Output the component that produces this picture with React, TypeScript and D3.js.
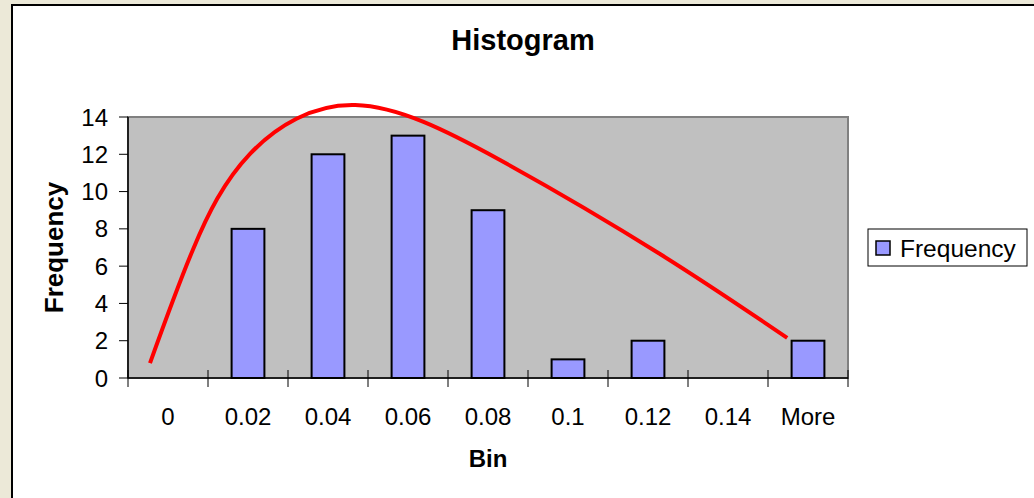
import React from "react";
import * as d3 from "d3";

const categories = ["0", "0.02", "0.04", "0.06", "0.08", "0.1", "0.12", "0.14", "More"];
const frequencies = [0, 8, 12, 13, 9, 1, 2, 0, 2];
const yTicks = [0, 2, 4, 6, 8, 10, 12, 14];
// red curve, x in category units from the left edge of the plot, y in frequency units
const curveX = [0.275, 0.81, 1.525, 2.84, 4.65, 6.65, 8.24];
const curveY = [0.8, 6.87, 12.02, 14.64, 11.69, 6.65, 2.15];

const W = 1034;
const H = 498;
const plot = { left: 128, top: 117, right: 848, bottom: 378 };
const FONT = "Liberation Sans, Arial, sans-serif";

export default function App() {
  const x = d3
    .scaleBand<string>()
    .domain(categories)
    .range([plot.left, plot.right])
    .paddingInner(0.59)
    .paddingOuter(0.295);
  const xc = d3.scaleLinear().domain([0, categories.length]).range([plot.left, plot.right]);
  const y = d3.scaleLinear().domain([0, 14]).range([plot.bottom, plot.top]);
  const line = d3
    .line<number>()
    .x((_, i) => xc(curveX[i]))
    .y((d) => y(d))
    .curve(d3.curveNatural);
  const step = x.step();
  const boundaries = d3.range(categories.length + 1).map((i) => plot.left + i * step);

  return (
    <svg
      width={W}
      height={H}
      style={{ position: "absolute", left: 0, top: 0, display: "block" }}
      fontFamily={FONT}
    >
      <rect x={0} y={0} width={W} height={H} fill="#ECE9D8" />
      <rect x={12} y={5} width={W + 20} height={H + 20} fill="#FFFFFF" stroke="#000" strokeWidth={2} />
      <text x={523} y={50} textAnchor="middle" fontSize={29} fontWeight="bold">
        Histogram
      </text>
      {/* plot area */}
      <rect
        x={plot.left}
        y={plot.top}
        width={plot.right - plot.left}
        height={plot.bottom - plot.top}
        fill="#C0C0C0"
        stroke="#808080"
        strokeWidth={2}
      />
      {/* bars */}
      {categories.map((c, i) =>
        frequencies[i] > 0 ? (
          <rect
            key={c}
            x={x(c)}
            y={y(frequencies[i])}
            width={x.bandwidth()}
            height={y(0) - y(frequencies[i])}
            fill="#9999FF"
            stroke="#000"
            strokeWidth={2}
          />
        ) : null
      )}
      {/* axes */}
      <line x1={plot.left} x2={plot.left} y1={plot.top} y2={plot.bottom} stroke="#000" strokeWidth={1.5} />
      <line x1={plot.left} x2={plot.right} y1={plot.bottom} y2={plot.bottom} stroke="#000" strokeWidth={1.5} />
      {yTicks.map((t) => (
        <g key={t}>
          <line x1={plot.left - 9} x2={plot.left} y1={y(t)} y2={y(t)} stroke="#000" strokeWidth={1} />
          <text x={108} y={y(t) + 8.5} textAnchor="end" fontSize={24}>
            {t}
          </text>
        </g>
      ))}
      {boundaries.map((b, i) => (
        <line key={i} x1={b} x2={b} y1={plot.bottom - 8} y2={plot.bottom + 9} stroke="#000" strokeWidth={1} />
      ))}
      {categories.map((c) => (
        <text key={c} x={(x(c) ?? 0) + x.bandwidth() / 2} y={425} textAnchor="middle" fontSize={24}>
          {c}
        </text>
      ))}
      {/* red curve */}
      <path d={line(curveY) ?? ""} fill="none" stroke="#FF0000" strokeWidth={4} />
      {/* axis titles */}
      <text x={(plot.left + plot.right) / 2} y={467} textAnchor="middle" fontSize={24} fontWeight="bold">
        Bin
      </text>
      <text
        transform={`translate(63, ${(plot.top + plot.bottom) / 2}) rotate(-90)`}
        textAnchor="middle"
        fontSize={26}
        fontWeight="bold"
      >
        Frequency
      </text>
      {/* legend */}
      <rect x={868} y={229} width={159} height={37} fill="#FFF" stroke="#000" strokeWidth={1} />
      <rect x={876} y={241} width={14} height={14} fill="#9999FF" stroke="#000" strokeWidth={1.5} />
      <text x={900} y={257} fontSize={24.5}>
        Frequency
      </text>
    </svg>
  );
}
